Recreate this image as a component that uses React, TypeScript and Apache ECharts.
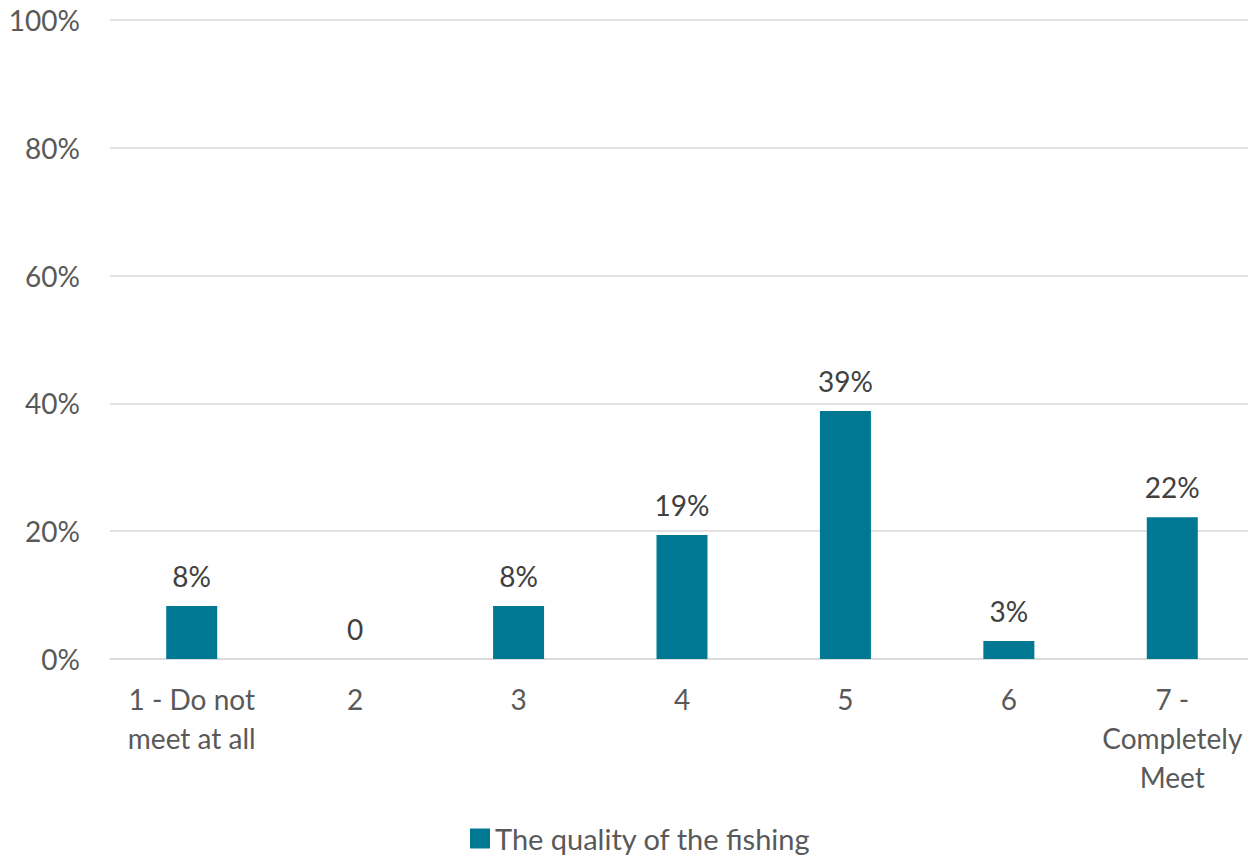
import React, { useEffect, useRef } from "react";
import * as echarts from "echarts";

const categories = ["1 - Do not\nmeet at all", "2", "3", "4", "5", "6", "7 -\nCompletely\nMeet"];
const values = [8.3, 0, 8.3, 19.4, 38.8, 2.8, 22.2];
const seriesName = "The quality of the fishing";
const yTicks = { min: 0, max: 100, interval: 20 };

const FONT = "Lato";
const TEXT = "#595959";
const BAR = "#007894";

export default function App() {
  const ref = useRef<HTMLDivElement>(null);
  useEffect(() => {
    document.body.style.margin = "0";
    const chart = echarts.init(ref.current!, null, { renderer: "svg" });
    chart.setOption({
      animation: false,
      textStyle: { fontFamily: FONT },
      grid: { left: 110, top: 20, width: 1144, height: 639, containLabel: false },
      legend: {
        data: [seriesName],
        top: 819,
        left: 465,
        icon: "rect",
        itemWidth: 20,
        itemHeight: 20,
        itemGap: 8,
        textStyle: { fontFamily: FONT, fontSize: 29, color: TEXT },
      },
      xAxis: {
        type: "category",
        data: categories,
        axisLine: { lineStyle: { color: "#d9d9d9", width: 1.5 } },
        axisTick: { show: false },
        axisLabel: { color: TEXT, fontSize: 28, fontFamily: FONT, margin: 20, lineHeight: 39, interval: 0 },
      },
      yAxis: {
        type: "value",
        min: yTicks.min,
        max: yTicks.max,
        interval: yTicks.interval,
        axisLabel: { formatter: "{value}%", color: TEXT, fontSize: 28, fontFamily: FONT, margin: 30 },
        splitLine: { lineStyle: { color: "#d9d9d9", width: 1.5 } },
        axisLine: { show: false },
        axisTick: { show: false },
      },
      series: [
        {
          name: seriesName,
          type: "bar",
          data: values,
          barWidth: 51,
          itemStyle: { color: BAR },
          label: {
            show: true,
            position: "top",
            distance: 16,
            color: "#404040",
            fontSize: 28,
            fontFamily: FONT,
            formatter: (p: any) => (p.value === 0 ? "0" : Math.round(p.value) + "%"),
          },
        },
      ],
    });
    return () => chart.dispose();
  }, []);
  return (
    <div style={{ width: 1248, height: 856, overflow: "hidden" }}>
      <div ref={ref} style={{ width: 1264, height: 856 }} />
    </div>
  );
}
